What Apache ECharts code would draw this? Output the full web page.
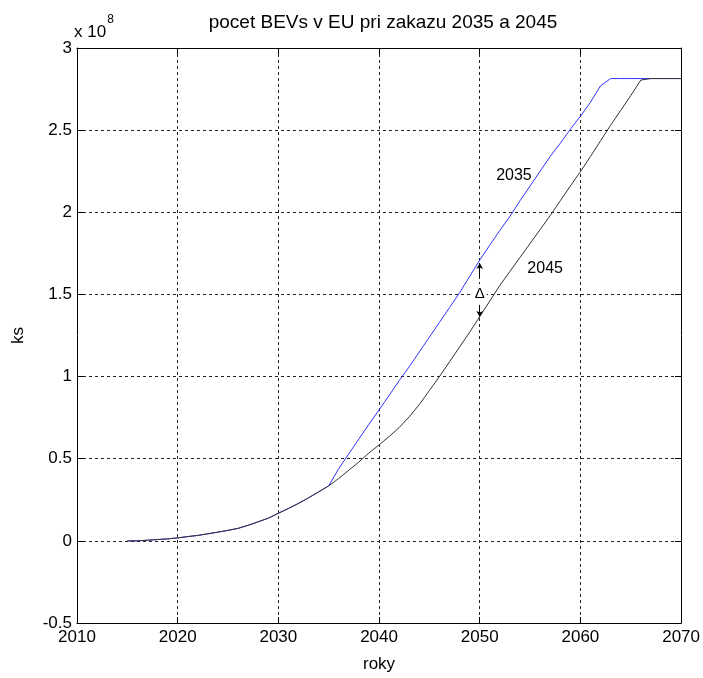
<!DOCTYPE html>
<html>
<head>
<meta charset="utf-8">
<script src="https://cdn.jsdelivr.net/npm/echarts@6/dist/echarts.min.js"></script>
<style>
  html, body { margin: 0; padding: 0; background: #fff; }
  #chart { width: 703px; height: 678px; }
</style>
</head>
<body>
<div id="chart"></div>
<script>
// Years of the simulation (x axis)
const years = [];
for (let y = 2015; y <= 2070; y++) years.push(y);

// BEV fleet in EU, units of 1e8 vehicles, with combustion-car ban in 2035
const ban2035 = [
  0, 0, 0.004, 0.008, 0.012, 0.018, 0.026, 0.033, 0.043, 0.053,
  0.064, 0.076, 0.095, 0.116, 0.138, 0.168, 0.197, 0.228, 0.262, 0.298,
  0.335, 0.44, 0.53, 0.62, 0.71, 0.797, 0.885, 0.975, 1.06, 1.15,
  1.24, 1.33, 1.42, 1.51, 1.61, 1.709, 1.80, 1.89, 1.975, 2.07,
  2.16, 2.25, 2.34, 2.42, 2.505, 2.585, 2.67, 2.77, 2.814, 2.814,
  2.814, 2.814, 2.814, 2.814, 2.814, 2.814
];

// Same fleet with the ban in 2045
const ban2045 = [
  0, 0, 0.004, 0.008, 0.012, 0.018, 0.026, 0.033, 0.043, 0.053,
  0.064, 0.076, 0.095, 0.116, 0.138, 0.168, 0.197, 0.228, 0.262, 0.298,
  0.335, 0.38, 0.43, 0.48, 0.535, 0.584, 0.635, 0.69, 0.755, 0.83,
  0.915, 1.0, 1.09, 1.18, 1.27, 1.365, 1.46, 1.555, 1.64, 1.725,
  1.81, 1.895, 1.98, 2.07, 2.16, 2.247, 2.34, 2.435, 2.53, 2.62,
  2.71, 2.805, 2.814, 2.814, 2.814, 2.814
];

// Axis ticks
const xTicks = [2010, 2020, 2030, 2040, 2050, 2060, 2070];
const yTicks = [-0.5, 0, 0.5, 1, 1.5, 2, 2.5, 3];

// Curve labels [text, year, value] and the gap marker at 2050
const curveLabels = [['2035', 2053.4, 2.226], ['2045', 2056.5, 1.66]];
const deltaYear = 2050;
const deltaTop = [1.606, 1.691];
const deltaBottom = [1.436, 1.363];
const deltaMid = 1.502;

const FONT = 'Liberation Sans, Arial, sans-serif';
const pairs = arr => years.map((y, i) => [y, arr[i]]);

const chart = echarts.init(document.getElementById('chart'), null, { renderer: 'canvas' });

const gridStyle = { show: true, lineStyle: { color: '#222', type: [3, 3], width: 1 } };
const tickIn = { show: true, inside: true, length: 6, lineStyle: { color: '#000' } };
const frameLine = { show: true, onZero: false, lineStyle: { color: '#000', width: 1 } };

chart.setOption({
  animation: false,
  backgroundColor: '#fff',
  grid: { left: 77, right: 19, top: 48, bottom: 55, show: false },
  graphic: [
    {
      type: 'text', x: 383, y: 23,
      style: { text: 'pocet BEVs v EU pri zakazu 2035 a 2045', font: '19px ' + FONT,
               fill: '#000', textAlign: 'center', textVerticalAlign: 'middle' }
    },
    {
      type: 'text', x: 74, y: 14,
      style: {
        text: '{a|x 10}{b|8}',
        rich: {
          a: { fontSize: 17, fontFamily: FONT, color: '#000', padding: [10, 0, 0, 0] },
          b: { fontSize: 12, fontFamily: FONT, color: '#000', verticalAlign: 'top', padding: [0, 0, 8, 1] }
        }
      }
    }
  ],
  xAxis: [
    {
      type: 'value', min: 2010, max: 2070, interval: 10,
      name: 'roky', nameLocation: 'middle', nameGap: 33,
      nameTextStyle: { fontSize: 17, fontFamily: FONT, color: '#000' },
      axisLine: frameLine,
      axisTick: tickIn,
      axisLabel: { fontSize: 17, fontFamily: FONT, color: '#000', margin: 6,
                   formatter: v => xTicks.includes(v) ? String(v) : '' },
      splitLine: gridStyle
    },
    {
      type: 'value', position: 'top', min: 2010, max: 2070, interval: 10,
      axisLine: frameLine,
      axisTick: tickIn, axisLabel: { show: false }, splitLine: { show: false }
    }
  ],
  yAxis: [
    {
      type: 'value', min: -0.5, max: 3, interval: 0.5,
      name: 'ks', nameLocation: 'middle', nameGap: 50, nameRotate: 90,
      nameTextStyle: { fontSize: 17, fontFamily: FONT, color: '#000' },
      axisLine: frameLine,
      axisTick: tickIn,
      axisLabel: { fontSize: 17, fontFamily: FONT, color: '#000', margin: 5,
                   formatter: v => yTicks.includes(v) ? String(v) : '' },
      splitLine: gridStyle
    },
    {
      type: 'value', position: 'right', min: -0.5, max: 3, interval: 0.5,
      axisLine: frameLine,
      axisTick: tickIn, axisLabel: { show: false }, splitLine: { show: false }
    }
  ],
  series: [
    {
      name: '2045', type: 'line', data: pairs(ban2045), showSymbol: false,
      lineStyle: { color: '#333', width: 1 }, z: 3,
      markLine: {
        silent: true, symbol: ['none', 'arrow'], symbolSize: [5, 6],
        lineStyle: { color: '#000', width: 1, type: 'solid' },
        label: { show: false },
        data: [
          [{ coord: [deltaYear, deltaTop[0]] }, { coord: [deltaYear, deltaTop[1]] }],
          [{ coord: [deltaYear, deltaBottom[0]] }, { coord: [deltaYear, deltaBottom[1]] }]
        ]
      },
      markPoint: {
        silent: true,
        data: [
          {
            coord: [deltaYear, deltaMid], symbol: 'rect', symbolSize: [14, 20],
            itemStyle: { color: '#fff' },
            label: { show: true, formatter: '\u0394', position: 'inside',
                     fontSize: 15, fontFamily: FONT, color: '#000' }
          }
        ].concat(curveLabels.map(l => ({
          coord: [l[1], l[2]], symbol: 'rect', symbolSize: 1,
          itemStyle: { color: 'rgba(0,0,0,0)' },
          label: { show: true, formatter: l[0], position: 'inside',
                   fontSize: 16, fontFamily: FONT, color: '#000' }
        })))
      }
    },
    {
      name: '2035', type: 'line', data: pairs(ban2035), showSymbol: false,
      lineStyle: { color: '#3333ff', width: 1 }, z: 2
    }
  ]
});
</script>
</body>
</html>
